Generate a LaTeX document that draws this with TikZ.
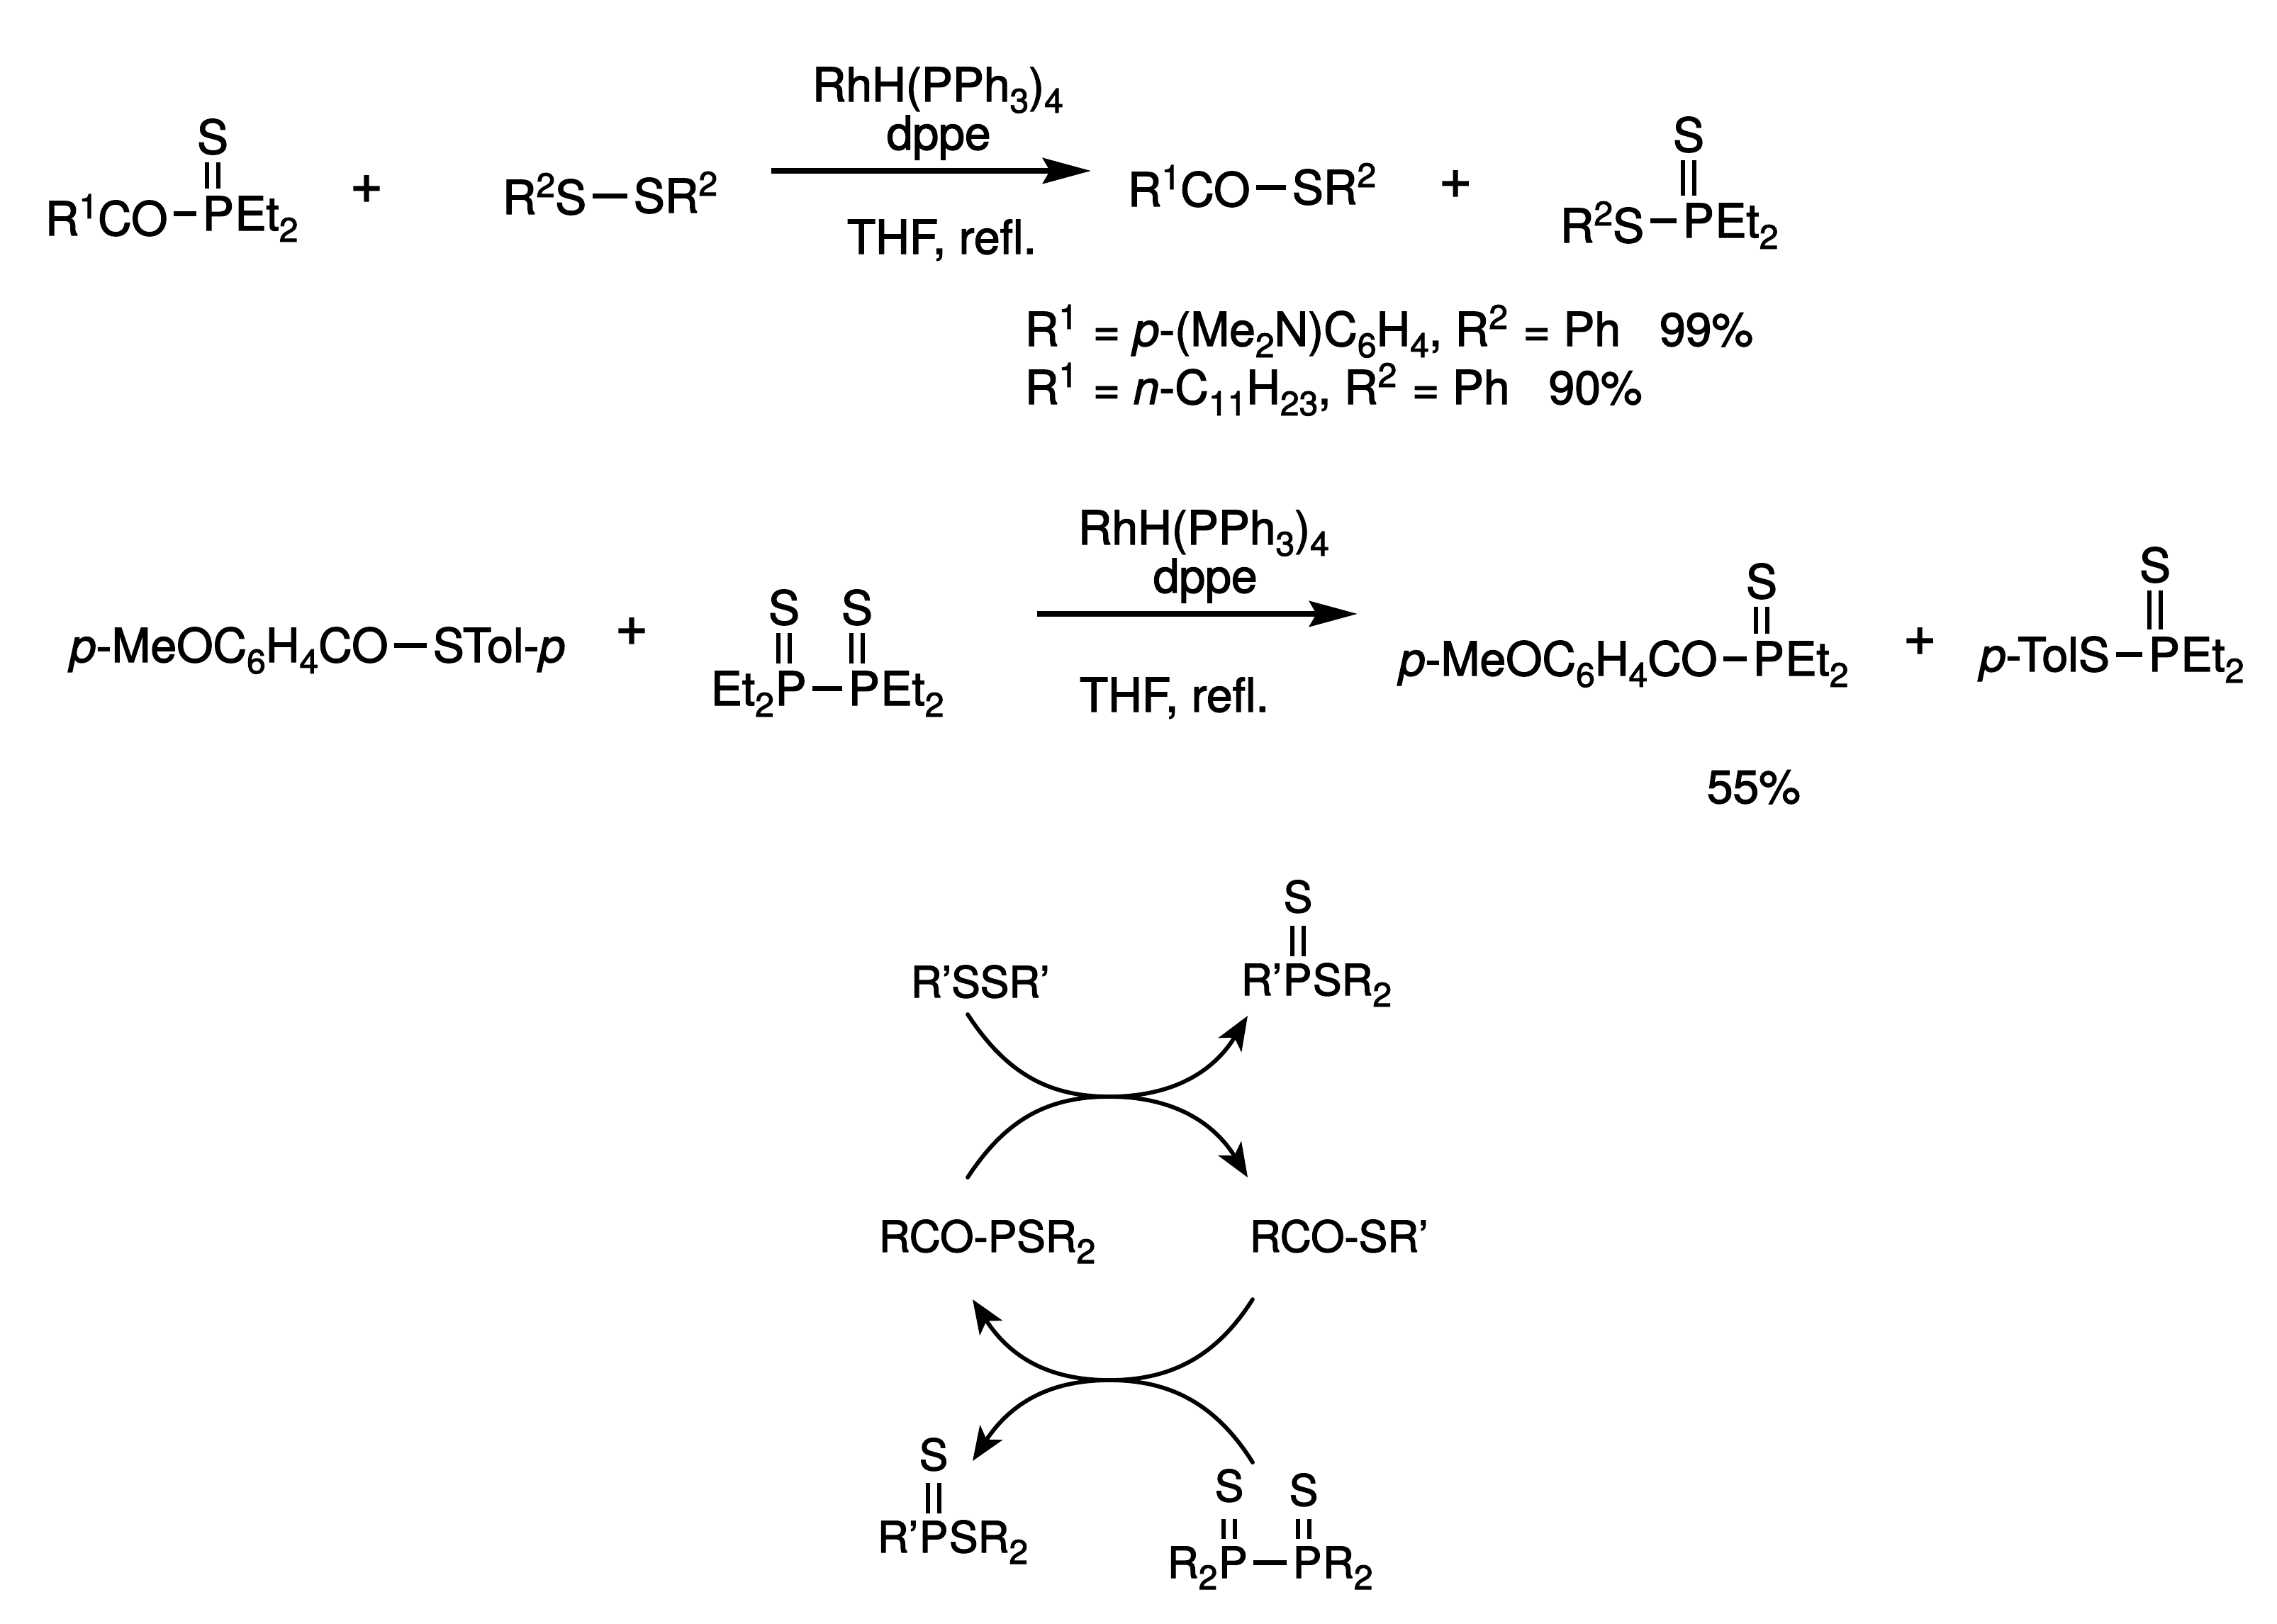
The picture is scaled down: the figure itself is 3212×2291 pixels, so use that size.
\documentclass[tikz,border=0pt]{standalone}
\usepackage{fontspec}
\setmainfont{TeX Gyre Heros}[RawFeature={embolden=2}]
\usetikzlibrary{arrows.meta}
\newcommand\sbs[1]{\raisebox{-4pt}{\fontsize{12}{12}\selectfont #1}}
\newcommand\sps[1]{\raisebox{6pt}{\fontsize{12}{12}\selectfont #1}}
\tikzset{
 txt/.style={inner sep=0pt,anchor=base west,text height=12pt,text depth=0pt,font=\fontsize{16.5}{18}\selectfont},
 txtc/.style={txt,text height=11pt,font=\fontsize{15.2}{18}\selectfont},
 plus/.style={inner sep=0pt,anchor=center,font=\fontsize{20}{20}\selectfont},
 bond/.style={line width=1.75pt,shorten <=2pt,shorten >=2pt},
 dbl/.style={double,double distance=2.6pt,line width=1.5pt,shorten <=2.8pt,shorten >=2.6pt},
 rxn/.style={line width=2pt,-{Stealth[length=17pt,width=9pt,inset=2.5pt]}},
 arc/.style={line width=1.45pt,line cap=round},
 arca/.style={arc,-{Stealth[length=12pt,width=9.5pt,inset=3pt]}},
}
\begin{document}
\begin{tikzpicture}[x=0.25pt,y=-0.25pt]
\useasboundingbox (0,0) rectangle (3212,2291);
\fill[white] (0,0) rectangle (3212,2291);
% row 1
\node[txt] (a1) at (63,332) {R\sps{1}CO};
\node[txt] (a2) at (285,325) {P};
\node[txt] (a3) at (a2.base east) {Et\sbs{2}};
\node[txt,anchor=base] (a4) at (300,217) {S};
\draw[bond] (a1.east |- a2.west) -- (a2.west);
\draw[dbl] (a4.south) -- (a4.south |- a2.north);
\node[plus] (p1) at (517,267) {+};
\node[txt] (b1) at (708,302) {R\sps{2}S};
\node[txt] (b2) at (893,300) {SR\sps{2}};
\draw[bond] (b1.east |- b2.west) -- (b2.west);
\node[txt] (r1) at (1145,143) {RhH(PPh\sbs{3})\sbs{4}};
\node[txt] (r2) at (1250,211) {dppe};
\coordinate (ar1s) at (1088,241);
\coordinate (ar1e) at (1539,241);
\draw[rxn] (ar1s) -- (ar1e);
\node[txt] (r3) at (1194,358) {THF, refl.};
\node[txt] (c1) at (1590,291) {R\sps{1}CO};
\node[txt] (c2) at (1822,288) {SR\sps{2}};
\draw[bond] (c1.east |- c2.west) -- (c2.west);
\node[plus] (p2) at (2053,260) {+};
\node[txt] (d1) at (2200,342) {R\sps{2}S};
\node[txt] (d2) at (2373,335) {P};
\node[txt] (d3) at (d2.base east) {Et\sbs{2}};
\node[txt,anchor=base] (d4) at (2382,214) {S};
\draw[bond] (d1.east |- d2.west) -- (d2.west);
\draw[dbl] (d4.south) -- (d4.south |- d2.north);
\node[txt] (l1) at (1445,488) {R\sps{1}\hspace{0.8pt} = \textit{p}-(Me\sbs{2}N)C\sbs{6}H\sbs{4}, R\sps{2}\hspace{0.8pt} = Ph\ \ \ 99\%};
\node[txt] (l2) at (1445,570) {R\sps{1}\hspace{0.8pt} = \textit{n}-C\sbs{11}H\sbs{23}, R\sps{2}\hspace{0.8pt} = Ph\ \ \ 90\%};
% row 2
\node[txt] (e1) at (98,934) {\textit{p}-MeOC\sbs{6}H\sbs{4}CO};
\node[txt] (e2) at (610,934) {STol-\textit{p}};
\draw[bond] (e1.east |- e2.west) -- (e2.west);
\node[plus] (p3) at (891,891) {+};
\node[txt] (f1) at (1002,995) {Et\sbs{2}};
\node[txt] (f2) at (f1.base east) {P};
\node[txt] (f3) at (1196,995) {P};
\node[txt] (f4) at (f3.base east) {Et\sbs{2}};
\node[txt,anchor=base] (f5) at (1106,881) {S};
\node[txt,anchor=base] (f6) at (1209,881) {S};
\draw[bond] (f2.east) -- (f3.west);
\draw[dbl] (f5.south) -- (f5.south |- f2.north);
\draw[dbl] (f6.south) -- (f6.south |- f3.north);
\node[txt] (r4) at (1520,768) {RhH(PPh\sbs{3})\sbs{4}};
\node[txt] (r5) at (1626,836) {dppe};
\coordinate (ar2s) at (1463,866);
\coordinate (ar2e) at (1915,866);
\draw[rxn] (ar2s) -- (ar2e);
\node[txt] (r6) at (1522,1004) {THF, refl.};
\node[txt] (g1) at (1973,953) {\textit{p}-MeOC\sbs{6}H\sbs{4}CO};
\node[txt] (g2) at (2472,953) {P};
\node[txt] (g3) at (g2.base east) {Et\sbs{2}};
\node[txt,anchor=base] (g4) at (2485,844) {S};
\draw[bond] (g1.east |- g2.west) -- (g2.west);
\draw[dbl] (g4.south) -- (g4.south |- g2.north);
\node[plus] (p4) at (2708,905) {+};
\node[txt] (h1) at (2792,947) {\textit{p}-TolS};
\node[txt] (h2) at (3030,947) {P};
\node[txt] (h3) at (h2.base east) {Et\sbs{2}};
\node[txt,anchor=base] (h4) at (3040,821) {S};
\draw[bond] (h1.east |- h2.west) -- (h2.west);
\draw[dbl] (h4.south) -- (h4.south |- h2.north);
\node[txt] (y1) at (2407,1133) {55\%};
% cycle
\node[txtc] (k1) at (1284,1407) {R’SSR’};
\node[txtc] (k2) at (1750,1404) {R’};
\node[txtc] (k3) at (k2.base east) {P};
\node[txtc] (k4) at (k3.base east) {SR\sbs{2}};
\node[txtc,anchor=base] (k5) at (1831,1287) {S};
\draw[dbl,shorten <=4.5pt] (k5.south) -- (k5.south |- k3.north);
\node[txtc] (m1) at (1239,1766) {RCO-PSR\sbs{2}};
\node[txtc] (m2) at (1762,1766) {RCO-SR’};
\node[txtc] (n1) at (1237,2190) {R’};
\node[txtc] (n2) at (n1.base east) {P};
\node[txtc] (n3) at (n2.base east) {SR\sbs{2}};
\node[txtc,anchor=base] (n4) at (1317,2074) {S};
\draw[dbl,shorten <=4.3pt] (n4.south) -- (n4.south |- n2.north);
\node[txtc] (o1) at (1646,2226) {R\sbs{2}};
\node[txtc] (o2) at (o1.base east) {P};
\node[txtc] (o3) at (1823,2226) {P};
\node[txtc] (o4) at (o3.base east) {R\sbs{2}};
\node[txtc,anchor=base] (o5) at (1734,2118) {S};
\node[txtc,anchor=base] (o6) at (1839,2124) {S};
\draw[bond] (o2.east) -- (o3.west);
\draw[dbl,shorten <=6pt] (o5.south) -- (o5.south |- o2.north);
\draw[dbl,shorten <=4.5pt] (o6.south) -- (o6.south |- o3.north);
\coordinate (u1) at (1365,1431);
\coordinate (u2) at (1760,1433);
\coordinate (u3) at (1365,1661);
\coordinate (u4) at (1760,1661);
\coordinate (v1) at (1767,1833);
\coordinate (v2) at (1372,1833);
\coordinate (v3) at (1767,2063);
\coordinate (v4) at (1372,2061);
\draw[arca] (u1) .. controls (1420,1515) and (1480,1547) .. (1565,1547) .. controls (1650,1547) and (1710,1515) .. (u2);
\draw[arca] (u3) .. controls (1420,1577) and (1480,1547) .. (1565,1547) .. controls (1650,1547) and (1710,1580) .. (u4);
\draw[arca] (v1) .. controls (1715,1915) and (1650,1947) .. (1565,1947) .. controls (1480,1947) and (1425,1915) .. (v2);
\draw[arca] (v3) .. controls (1715,1980) and (1650,1947) .. (1565,1947) .. controls (1480,1947) and (1425,1980) .. (v4);
\end{tikzpicture}
\end{document}
